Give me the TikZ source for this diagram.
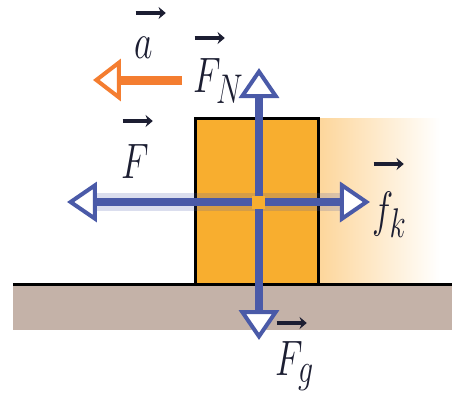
\documentclass[tikz,border=0pt]{standalone}
\usepackage{amsmath}
\usetikzlibrary{
  arrows.meta,
  positioning
}
\definecolor{ForceBlue}{RGB}{74,90,168}
\definecolor{BlockOrange}{RGB}{248,174,47}
\definecolor{AccelOrange}{RGB}{244,125,48}
\definecolor{FloorTan}{RGB}{196,178,168}
\definecolor{TrailOrange}{RGB}{253,214,155}
\definecolor{LabelInk}{RGB}{28,30,50}
% vector arrow laid over a letter, raised by #1
\newcommand{\vecarr}[2][24pt]{\rlap{\raisebox{#1}{\tikz\draw[line width=1.6pt,-{Stealth[length=5pt,width=6pt]}] (0pt,0pt) -- (21pt,0pt);}}#2}
\tikzset{
  forcearrow/.style={line width=4pt,draw=ForceBlue,-{Triangle[length=15pt,width=20pt,line width=2pt,fill=white]}},
  accelarrow/.style={line width=4.5pt,draw=AccelOrange,-{Triangle[length=14pt,width=21pt,line width=2pt,fill=white]}},
  blocknode/.style={draw=black,line width=1.5pt,fill=BlockOrange,minimum width=61.5pt,minimum height=83pt,inner sep=0pt},
  veclabel/.style={text=LabelInk,font=\fontsize{28}{32}\selectfont,inner sep=0pt,anchor=base west}
}
\begin{document}
\begin{tikzpicture}[x=0.5pt,y=-0.5pt]
\useasboundingbox (0,0) rectangle (452,408);
% trail behind the block
\shade[left color=TrailOrange,right color=white] (319,118) rectangle (440,284);
% floor
\fill[FloorTan] (13,284) rectangle (452,330);
\node[blocknode] (block) at (257.5,201) {};
\draw[line width=1.5pt] (13,284) -- (452,284);
% forces
\fill[ForceBlue,opacity=0.2] (93,193) rectangle (345,211);
\coordinate (c) at (259,202);
\coordinate (nend) at (259,68);
\coordinate (gend) at (259,340);
\coordinate (fend) at (67,202);
\coordinate (kend) at (370,202);
\draw[forcearrow] (c) -- (nend);
\draw[forcearrow] (c) -- (gend);
\draw[forcearrow] (c) -- (fend);
\draw[forcearrow] (c) -- (kend);
\node[fill=BlockOrange,minimum size=6.5pt,inner sep=0pt] (dot) at (c) {};
% acceleration
\coordinate (astart) at (182,80);
\coordinate (aend) at (93,80);
\draw[accelarrow] (astart) -- (aend);
% labels
\node[veclabel] (alab) at (134,58) {\scalebox{0.72}[1]{$\vecarr[19.5pt]{a}$}};
\node[veclabel] (fnlab) at (193,92) {\scalebox{0.72}[1]{$\vecarr[24pt]{F}_{N}$}};
\node[veclabel] (flab) at (121,178) {\scalebox{0.72}[1]{$\vecarr[25.5pt]{F}$}};
\node[veclabel] (fklab) at (372,226) {\scalebox{0.72}[1]{$\vecarr[28pt]{f}_{k}$}};
\node[veclabel] (fglab) at (275,375) {\scalebox{0.72}[1]{$\vecarr[23pt]{F}_{g}$}};
\end{tikzpicture}
\end{document}
